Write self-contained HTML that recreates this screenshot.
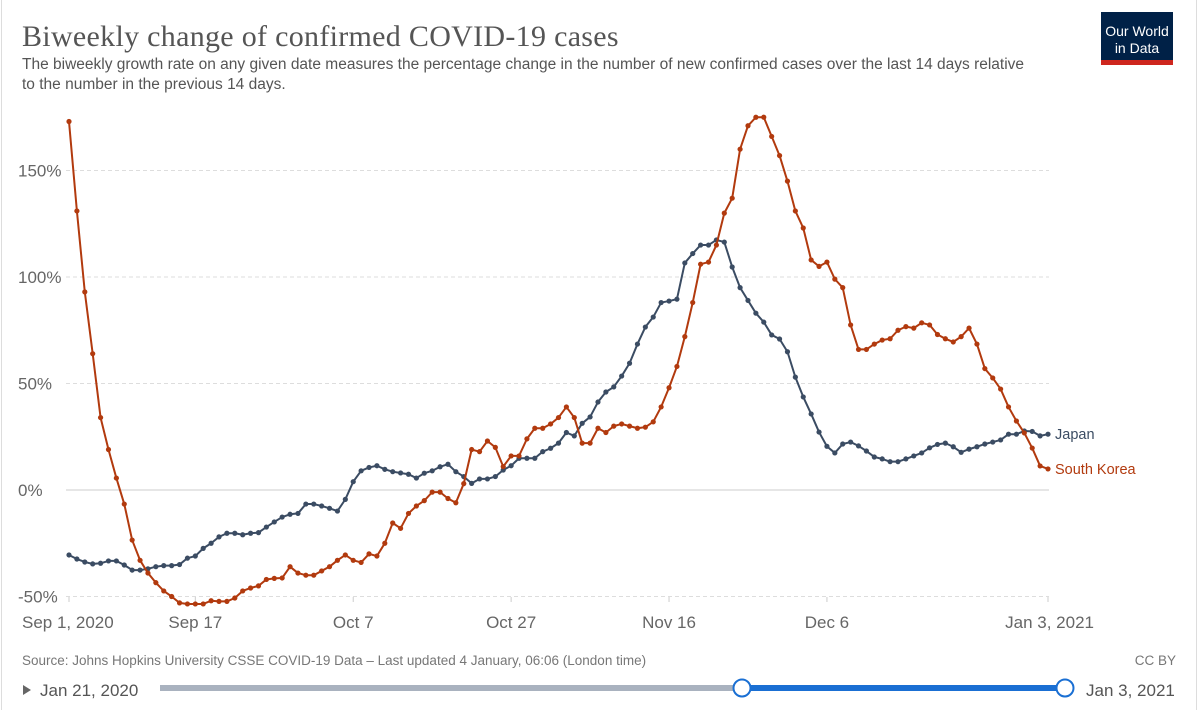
<!DOCTYPE html>
<html><head><meta charset="utf-8"><style>
body{margin:0;background:#fff;width:1200px;height:710px;overflow:hidden;font-family:"Liberation Sans",sans-serif}
svg{display:block}
</style></head><body>
<svg width="1200" height="710" viewBox="0 0 1200 710">
<rect x="1.5" y="-2" width="1195" height="720" fill="#fff" stroke="#ddd"/>
<text x="22" y="46" font-family="Liberation Serif, serif" font-size="30" letter-spacing="0.3" fill="#555">Biweekly change of confirmed COVID-19 cases</text>
<text x="22" y="69" font-size="15.5" fill="#555">The biweekly growth rate on any given date measures the percentage change in the number of new confirmed cases over the last 14 days relative</text>
<text x="22" y="89" font-size="15.5" fill="#555">to the number in the previous 14 days.</text>
<g>
<rect x="1101" y="12" width="72" height="53" fill="#002147"/>
<rect x="1101" y="60" width="72" height="5" fill="#ce261e"/>
<text x="1137" y="36" font-size="14" fill="#fff" text-anchor="middle">Our World</text>
<text x="1137" y="53" font-size="14" fill="#fff" text-anchor="middle">in Data</text>
</g>
<g id="grid"></g>
<g id="series"></g>
<text x="22" y="665" font-size="13.5" fill="#777">Source: Johns Hopkins University CSSE COVID-19 Data – Last updated 4 January, 06:06 (London time)</text>
<text x="1176" y="665" font-size="13.5" fill="#777" text-anchor="end">CC BY</text>
<path d="M23 685 L31 690 L23 695 Z" fill="#666"/>
<text x="40" y="696" font-size="17" fill="#555">Jan 21, 2020</text>
<rect x="160" y="685" width="582" height="6" fill="#a9b2bf"/>
<rect x="742" y="685" width="323" height="6" fill="#1a6fd3"/>
<circle cx="742" cy="688" r="8.5" fill="#fff" stroke="#1a6fd3" stroke-width="2"/>
<circle cx="1065" cy="688" r="8.5" fill="#fff" stroke="#1a6fd3" stroke-width="2"/>
<text x="1086" y="696" font-size="17" fill="#555">Jan 3, 2021</text>
</svg>
<script>
const yTicks=[-50,0,50,100,150];
const yTickLabels=["-50%","0%","50%","100%","150%"];
const xTickDays=[0,16,36,56,76,96,124];
const xTickLabels=["Sep 1, 2020","Sep 17","Oct 7","Oct 27","Nov 16","Dec 6","Jan 3, 2021"];
const seriesNames=["Japan","South Korea"];
const japan=[-30.5,-32.4,-33.8,-34.7,-34.4,-33.3,-33.3,-35.2,-37.6,-37.6,-37,-36,-35.5,-35.5,-35,-32,-31,-27.4,-25,-22,-20.3,-20.3,-21,-20.3,-20,-17.4,-15,-12.7,-11.4,-11,-6.6,-6.6,-7.5,-8.6,-9.9,-4.4,3.9,9,10.6,11.4,9.7,8.6,8,7.4,5.6,7.9,9,10.9,12.1,8.6,6.3,3.1,5.2,5.2,6.3,9.4,11.4,14.9,14.9,14.9,18,19.6,22,27,25.4,31.3,34.3,41.3,46,48.4,53.5,59.5,68.5,76.5,81.2,88,88.7,89.6,106.6,111,115,115,117.4,116.4,104.7,95,89,83,78.8,72.8,70.9,64.9,53,43.7,35.7,27.2,20.5,17.4,21.6,22.5,20.7,18.3,15.5,14.6,13.3,13.3,14.6,16,17.4,19.8,21.4,22,20.3,17.7,19.2,20.3,21.6,22.5,23.5,26.2,26.2,27.7,27.5,25.4,26.2];
const korea=[173,131,93,64,34,19,5.6,-6.6,-23.5,-33,-39,-43.5,-47.4,-50,-53,-53.5,-53.5,-53.5,-52,-52.3,-52.3,-50.7,-47.4,-46,-45,-42,-41.5,-41.3,-36,-39,-40,-40,-38,-36,-33,-30.5,-33,-34,-30,-31,-25,-15.5,-18,-11,-7.5,-5,-1,-1,-4,-6,3,19,18,23,20,11,16,16,24,29,29,31,34,39,34,22,22,29,27,30,31,30,29,29.5,32,39,48,58,72,88,106,107,115,130,137,160,171,175,175,166,157,145,131,123,108,105,107,99,95,77.5,66,66,68.5,70.4,71,75,76.7,76,78.5,77.5,73,71,69.5,72,76,68.5,57,52.6,47.4,39,32.4,26.8,19.7,11.3,9.9];
const colors=["#3b4c63","#b23a0e"];
const NS="http://www.w3.org/2000/svg";
const X0=69,X1=1048,D=124;
function xs(d){return X0+(X1-X0)*d/D;}
function ys(v){return 490-v*2.13;}
function mk(t,a,p){const e=document.createElementNS(NS,t);for(const k in a)e.setAttribute(k,a[k]);p.appendChild(e);return e;}
const grid=document.getElementById('grid');
yTicks.forEach((v,i)=>{
  const l=mk('line',{x1:66,x2:1049,y1:ys(v),y2:ys(v),stroke:v===0?'#ccc':'#ddd','stroke-width':1,'stroke-dasharray':v===0?'':'4,3'},grid);
  
  
  const t=mk('text',{x:18,y:ys(v)+6,'font-size':17,fill:'#666'},grid);
  t.textContent=yTickLabels[i];
  
  
});
xTickDays.forEach((d,i)=>{
  const l=mk('line',{x1:xs(d),x2:xs(d),y1:597,y2:602,stroke:'#ccc'},grid);
  
  
  const anchor=i===0?'start':(i===xTickDays.length-1?'end':'middle');
  const t=mk('text',{x:xs(d),y:628,'font-size':17,fill:'#666','text-anchor':anchor},grid);
  if(i===0)t.setAttribute('x',22);
  if(i===xTickDays.length-1)t.setAttribute('x',1094);
  t.textContent=xTickLabels[i];
  
  
});
const sg=document.getElementById('series');
[japan,korea].forEach((arr,si)=>{
  const g=mk('g',{},sg);
  
  
  const p=mk('polyline',{points:arr.map((v,d)=>xs(d)+','+ys(v)).join(' '),fill:'none',stroke:colors[si],'stroke-width':2,'stroke-linejoin':'round'},g);
  
  
  arr.forEach((v,d)=>{
    const c=mk('circle',{cx:xs(d),cy:ys(v),r:2.6,fill:colors[si]},g);
    
    
  });
  const last=arr[arr.length-1];
  const t=mk('text',{x:1055,y:ys(last)+5,'font-size':14.5,fill:colors[si]},g);
  t.textContent=seriesNames[si];
  
  
});
</script>
</body></html>
